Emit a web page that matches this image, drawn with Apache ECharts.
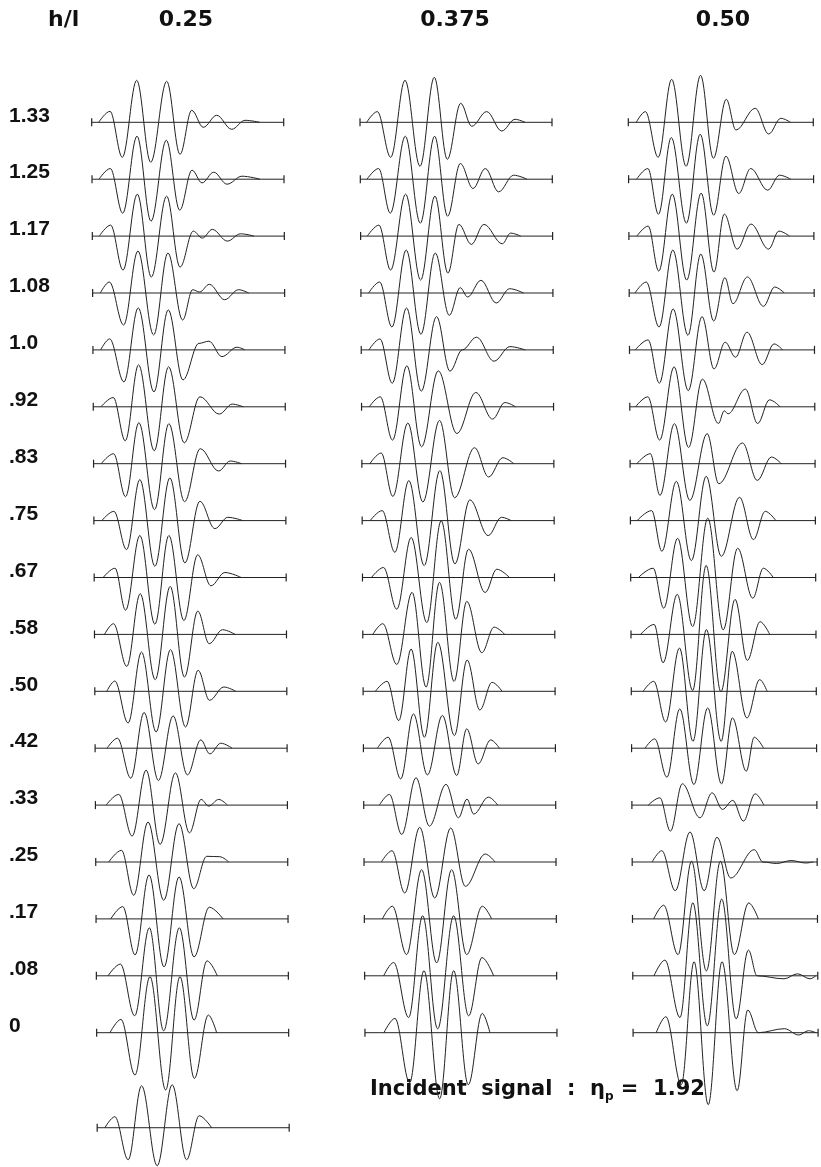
<!DOCTYPE html>
<html>
<head>
<meta charset="utf-8">
<script src="https://cdn.jsdelivr.net/npm/echarts@6.0.0/dist/echarts.min.js"></script>
<style>html,body{margin:0;padding:0;background:#fff}#c{width:821px;height:1167px}</style>
</head>
<body>
<div id="c"></div>
<script>
// ---------------- DATA ----------------
const cornerLabel = 'h/l';
const columnLabels = ['0.25', '0.375', '0.50'];
const rowLabels = ['1.33','1.25','1.17','1.08','1.0','.92','.83','.75','.67','.58','.50','.42','.33','.25','.17','.08','0'];

// each trace: [time, amplitude] at its start, extrema and end
const traces025 = [
  [[7,0],[18.3,11],[30.6,-35],[45,42],[59,-40],[75,41],[88.3,-32],[100,12],[111.6,-5],[125,7],[140,-7],[153.3,2],[168,0]],
  [[7,0],[18.3,10.7],[30.7,-34],[45,43],[59,-42],[74.3,39],[87.7,-31],[100,9],[110,-3.7],[121.7,7],[135,-5],[150,3],[168,0]],
  [[7,0],[18.3,11],[30.7,-34],[45,42],[59,-41],[74.3,40],[87.7,-31],[101,5],[110,-2],[120,6.7],[135,-5],[148.3,2.3],[161.7,0]],
  [[7.7,0],[16.7,11],[31,-32],[45.3,42],[61,-42],[75.3,40],[90,-27],[100,3.3],[107,1],[116.7,8.7],[132,-6.7],[146,3.3],[156,0]],
  [[7.7,0],[16.7,11],[31,-32],[45.3,42],[61,-42],[75.3,40],[90,-30],[106,6.5],[116,8.7],[129,-6.7],[144,2.7],[152,0]],
  [[7.7,0],[20,9.3],[32,-34],[45.3,42],[61,-44],[75.3,40],[91,-36],[106.7,10],[126,-7.3],[139,2.7],[150,0]],
  [[7.7,0],[20,10],[32,-33],[45.3,41],[61,-46],[75.3,40],[91,-38],[106.7,15],[125,-7.3],[136.7,2.7],[148,0]],
  [[8,0],[20,9.3],[32.7,-29],[46,41],[61,-45.7],[76,42.7],[91,-42.3],[106,19.3],[121,-8],[134,3.3],[149,0]],
  [[9,0],[20.8,9.3],[31.4,-32.7],[45.7,42],[60.7,-46.7],[74.7,42],[89.7,-43],[103.5,22.7],[116.7,-8.3],[130.7,5],[147,0]],
  [[10,0],[19,10.7],[32.3,-32],[45.7,40.7],[60.7,-45.3],[75.7,48],[90,-42.7],[103.3,23.3],[114.7,-9.3],[128,4.7],[140.7,0]],
  [[12,0],[20,10.3],[33.3,-31.7],[46.7,39.3],[61.3,-40.7],[75.7,41.7],[90.7,-35.7],[103.3,21],[114.7,-9],[129,4.3],[141,0]],
  [[12,0],[22.3,10],[35.7,-30],[49,35.7],[63.3,-32.3],[78,32.3],[92.3,-26.7],[105.7,8.3],[114.7,-5.7],[125.7,5],[137,0]],
  [[10.7,0],[23.3,10.7],[36.7,-31],[50.7,35],[64.7,-39.3],[80,32.3],[94,-27.7],[105.7,5.7],[113.3,-1],[123.3,5.7],[132,0]],
  [[13,0],[25.7,11.7],[38,-33.3],[52.3,40],[68,-38.3],[83.3,38.3],[98,-26.7],[111,5.7],[124,5.3],[133,0]],
  [[14.7,0],[26.7,12.3],[39,-36],[53,44],[68,-48],[83,42],[98,-38],[113.3,11.7],[127,0]],
  [[11.7,0],[24,11.7],[38.3,-40],[53,48],[67.3,-55],[83,48],[97.7,-44.3],[110.7,15],[121,0]],
  [[13.3,0],[24.3,13.3],[38.3,-42.3],[53.3,56],[69,-57.3],[83.3,56],[97.7,-45.7],[111.7,17.7],[120,0]]
];
const traces0375 = [
  [[6.7,0],[17.3,10.7],[30.7,-35],[45,42],[60,-44],[74.3,45],[87.3,-37],[100.7,19],[111.7,-4],[126.7,10.7],[141.7,-8.7],[155,3],[165,0]],
  [[6.7,0],[18.3,10.7],[30,-34],[45,43],[60,-44],[74.3,43],[87.3,-37],[100,15.7],[112.7,-9.3],[125,10.7],[138.3,-12.7],[153.3,4],[166.7,0]],
  [[6.7,0],[18.3,11],[30,-34],[45,42],[60,-44],[74.3,40],[87.3,-37],[98.3,11.7],[110.7,-8.3],[123.3,11.7],[141.7,-7.7],[150,3],[160,0]],
  [[7.7,0],[18.7,11],[31,-34],[45.3,43],[60,-41.3],[74.3,40],[88.3,-22.3],[99.3,5.3],[106.7,-4],[120,12.7],[135.3,-10],[148.7,4.3],[162.7,0]],
  [[7.7,0],[18.7,11],[31,-33.3],[45.3,42],[60,-41.3],[75.3,33.3],[88.7,-21.3],[101,0],[115.3,12.7],[132.7,-11.3],[148.7,3.3],[164,0]],
  [[7.7,0],[18.7,10],[31,-33.3],[45.3,41],[60,-40],[76.7,36],[95.3,-26.7],[114.3,14.3],[131,-12.3],[143.3,4.3],[154,0]],
  [[8,0],[19.3,10.7],[31,-32.7],[46,40.7],[61,-38.3],[77.7,43.3],[92.7,-34],[112.7,16],[126.7,-13.3],[141,6],[152,0]],
  [[8,0],[20,10],[32.7,-31.7],[46.7,40],[62,-45],[77.7,50],[92.7,-43.3],[107.7,20.7],[126,-15],[139.3,3.3],[149,0]],
  [[9,0],[21,10],[34.3,-31.7],[48.7,40],[64.3,-45],[78.7,56.7],[93.3,-41.7],[106,28.3],[122.7,-15],[134.3,8.3],[147,0]],
  [[10,0],[20,10.7],[34,-30],[49.3,42],[63.3,-52.7],[76.7,52],[91.3,-47],[104,33],[119,-18.3],[131.3,7.3],[142,0]],
  [[12.3,0],[24,10],[35.7,-29.3],[48,42.3],[61.3,-46],[74.7,49],[91.3,-44.3],[104,31.3],[116.7,-18.7],[129,9],[139,0]],
  [[14,0],[24.7,11],[37.3,-30.7],[50,34.3],[64,-26.7],[79,32.7],[93.3,-27.3],[103.3,19.3],[114.7,-15.7],[127.3,8.3],[136,0]],
  [[15.7,0],[25.7,10.7],[38,-29.3],[52.3,27.3],[65.7,-21],[82.3,20.7],[94.7,-12.7],[103.3,6],[110,-9],[124.7,8],[134,0]],
  [[17.3,0],[28,11.3],[40.7,-31],[55.7,34.7],[70.7,-36],[86.7,34],[101.3,-24.3],[121.3,8],[131,0]],
  [[18,0],[28,12.7],[42.3,-35.7],[57.3,49.3],[72.3,-44],[87.3,49.3],[102.3,-35.7],[118,12.7],[127.3,0]],
  [[19,0],[29,13.3],[44,-41.7],[58,60],[73,-53],[89,60],[104,-40],[117.3,18.3],[129,0]],
  [[19,0],[30,14.3],[44.7,-50],[59,62],[74.7,-66],[88.7,62],[103.3,-52],[117.3,19.3],[125,0]]
];
const traces050 = [
  [[8.3,0],[17.7,10.7],[31,-35],[45,43],[60,-44],[75,47],[88.3,-36],[101.7,23],[111.7,-7.7],[131.7,14],[145.7,-11.7],[158.3,4],[168.3,0]],
  [[8.3,0],[20,10.7],[31,-35],[44.3,41.7],[60,-44],[74.3,45],[88.3,-36],[101,23],[114.3,-14.3],[126.7,10.7],[144.3,-11],[156.7,4],[168.3,0]],
  [[8.3,0],[20,10],[31,-35],[45,42],[60,-44],[75,43],[88.3,-36],[99,22],[112.3,-13],[126.7,12],[145,-13],[155.7,5],[166.7,0]],
  [[6,0],[17.7,11],[31,-34],[45.3,43],[61,-42.3],[74.3,39],[87.7,-28],[99.3,15.3],[107.7,-10.7],[122.7,16],[139.3,-13.3],[151,6],[161,0]],
  [[6,0],[19.3,10],[31,-33.3],[45.3,41],[61,-40.7],[75.3,33.3],[87.7,-19],[99.3,7.7],[110,-7.3],[122,17.7],[137.7,-14.7],[150,6],[159,0]],
  [[6,0],[18.7,10],[31,-33.3],[46,40],[61,-40.7],[75.3,27.7],[92,-16.7],[98,-4],[102,-7],[120,17.7],[132.7,-16.7],[145,7],[156,0]],
  [[7,0],[21,10],[31,-31.7],[46,40],[62,-36.7],[80,30],[92,-20],[116.7,20.7],[132,-16.7],[146.7,6.7],[157,0]],
  [[7,0],[22,10],[32.7,-30.7],[47.7,39.3],[63.3,-40],[78.7,44.3],[94.3,-35.7],[113.3,23.3],[127.7,-19],[140,9.3],[151,0]],
  [[8,0],[23.3,9.3],[34.3,-30.7],[48.7,39.3],[64.3,-49],[80,59.3],[96,-52.3],[111,29.3],[126.7,-20.7],[137.7,9.3],[148,0]],
  [[10,0],[24,10],[33.3,-28.3],[48,40],[64,-56],[78,69],[93.3,-57.3],[108,35],[120.7,-26],[134,12.7],[144,0]],
  [[12.3,0],[23.3,10],[35.7,-30.7],[50,43.3],[64,-50],[78,61.7],[93.3,-50],[104.7,40],[120,-26.7],[133.3,11.7],[141,0]],
  [[14,0],[24,9.3],[36.7,-29],[50,39.3],[64.7,-36.3],[79,40.3],[93.3,-35.7],[104.7,30.3],[119,-23],[127.3,11],[137,0]],
  [[17,0],[29,7.3],[40,-26],[52.3,21.3],[70.7,-12.7],[83.3,12.3],[94,-4.3],[104.7,4.7],[115.7,-16],[128,11.3],[137,0]],
  [[20.7,0],[30.7,11.3],[44.7,-28.7],[60,30],[74.7,-28.7],[88,24.7],[102.3,-16],[126.7,12.3],[135.7,0],[150,-1.5],[165,1.5],[180,-1],[188,0]],
  [[22,0],[32.3,13.7],[47.3,-35.7],[61.3,57.7],[76.7,-52],[91.3,57.7],[105.7,-35.7],[120.7,16],[130.7,0]],
  [[22,0],[33.3,15.7],[49,-41.7],[62.3,73],[77.3,-50],[92.3,76.7],[107.3,-43],[120,25.7],[129,0],[157,-3],[171,2],[184,-3],[190,0]],
  [[24,0],[34,16],[50,-52],[63.3,71],[78,-72],[92.3,71],[108,-58],[119,22.7],[130,0],[157,4],[172,-2.3],[182,2],[190,0]]
];
const incidentSignal = [[7.7,0],[17.7,11],[31,-32],[44.4,42],[60,-38],[75,43],[89.4,-32],[102,12],[114.4,0]];
const incidentLabel = { name: 'Incident  signal  :  η', sub: 'p', value: ' =  1.92' };

// ---------------- LAYOUT ----------------
const W = 821, H = 1167;
const ROW0_Y = 122.3, ROW_STEP = 56.9, SKEW = 0.31, TRACE_LEN = 192;
const COL_LEFT = [91.7, 360, 628.3];
const INCIDENT_ROW = 17.67;
const INK = '#222';

const columns = [traces025, traces0375, traces050];
const grids = [], xAxes = [], yAxes = [], series = [];

function addTrace(c, rowPos, pts) {
  const off = rowPos * SKEW, base = -rowPos * ROW_STEP;
  series.push({
    type: 'line', xAxisIndex: c, yAxisIndex: c, silent: true, clip: false,
    data: [[off, base], [off + TRACE_LEN, base]],
    symbol: 'rect', symbolSize: [1.2, 8], showSymbol: true,
    itemStyle: { color: INK }, lineStyle: { color: INK, width: 1 }, z: 2
  });
  series.push({
    type: 'line', xAxisIndex: c, yAxisIndex: c, silent: true, clip: false,
    data: pts.map(p => [p[0] + off, p[1] + base]),
    smooth: 0.36, smoothMonotone: 'x', showSymbol: false, symbol: 'none',
    lineStyle: { color: INK, width: 1 }, z: 3
  });
}

columns.forEach((traces, c) => {
  grids.push({ left: COL_LEFT[c], top: 0, width: 200, height: H, containLabel: false });
  xAxes.push({ type: 'value', gridIndex: c, min: 0, max: 200, show: false });
  yAxes.push({ type: 'value', gridIndex: c, min: ROW0_Y - H, max: ROW0_Y, show: false });
  traces.forEach((pts, i) => addTrace(c, i, pts));
});
addTrace(0, INCIDENT_ROW, incidentSignal);

const FONT = '"Liberation Sans", Arial, sans-serif';
const HFONT = '"DejaVu Sans", sans-serif';
const graphics = [];
graphics.push({ type: 'text', x: 48, y: 20,
  style: { text: cornerLabel, font: 'bold 22px ' + HFONT, fill: '#111', textAlign: 'left', textVerticalAlign: 'middle' } });
const headerCenters = [186, 455, 723];
columnLabels.forEach((t, c) => {
  graphics.push({ type: 'text', x: headerCenters[c], y: 20,
    style: { text: t, font: 'bold 22px ' + HFONT, fill: '#111', textAlign: 'center', textVerticalAlign: 'middle' } });
});
rowLabels.forEach((t, i) => {
  graphics.push({ type: 'text', x: 9, y: ROW0_Y + i * ROW_STEP + 4,
    style: { text: t, font: 'bold 21px ' + FONT, fill: '#111', textAlign: 'left', textVerticalAlign: 'bottom' } });
});
graphics.push({ type: 'text', x: 370, y: 1090,
  style: {
    text: '{a|' + incidentLabel.name + '}{s|' + incidentLabel.sub + '}{a|' + incidentLabel.value + '}',
    textAlign: 'left', textVerticalAlign: 'middle',
    rich: {
      a: { font: 'bold 21px ' + HFONT, fill: '#111', lineHeight: 26 },
      s: { font: 'bold 12px ' + HFONT, fill: '#111', lineHeight: 26, verticalAlign: 'bottom', padding: [8, 0, 0, 0] }
    }
  } });

const chart = echarts.init(document.getElementById('c'), null, { renderer: 'canvas', width: W, height: H });
chart.setOption({
  animation: false,
  backgroundColor: '#fff',
  grid: grids, xAxis: xAxes, yAxis: yAxes, series: series,
  graphic: { elements: graphics }
});
</script>
</body>
</html>
